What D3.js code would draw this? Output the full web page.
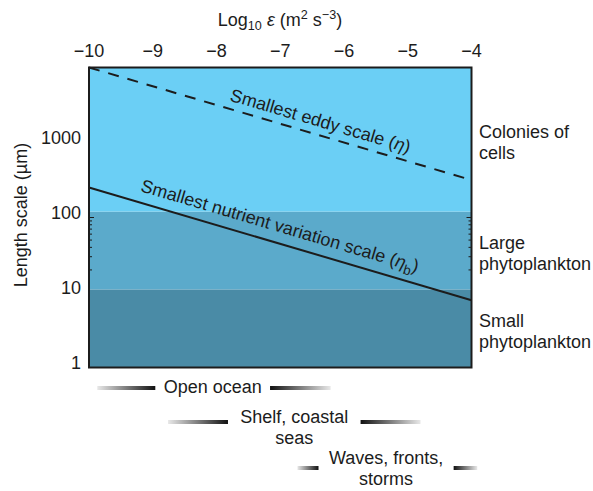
<!DOCTYPE html>
<html>
<head>
<meta charset="utf-8">
<script src="https://cdn.jsdelivr.net/npm/d3@7"></script>
<style>
  html, body { margin: 0; padding: 0; background: #fff; }
  svg { display: block; font-family: "Liberation Sans", Arial, Helvetica, sans-serif; }
</style>
</head>
<body>
<svg id="chart" width="593" height="491"></svg>
<script>
// ---- data ----
const epsTicks = [-10, -9, -8, -7, -6, -5, -4];
const lengthTicks = [1, 10, 100, 1000];
const minorTicks = [20, 30, 40, 50, 60, 70, 80, 90, 100];
const bandEdges = [1, 11, 120, 10000];           // size classes (µm)
const rightLabels = [["Small", "phytoplankton"], ["Large", "phytoplankton"], ["Colonies of", "cells"]];
const eddyEps = [-10, -4];
const eddyScale = [10000, 316];                   // η (µm)
const batchEps = [-10, -4];
const batchScale = [251, 7.9];                    // η_b (µm)
const regimeNames = [["Open ocean"], ["Shelf, coastal", "seas"], ["Waves, fronts,", "storms"]];
const regimeLeftBar = [[-9.87, -8.96], [-8.76, -7.82], [-6.73, -6.40]];
const regimeRightBar = [[-7.16, -6.21], [-5.74, -4.80], [-4.28, -3.91]];

// ---- layout ----
const svg = d3.select("#chart");
const x = d3.scaleLinear().domain([-10, -4]).range([89, 471.5]);
const y = d3.scaleLog().domain([1, 10000]).range([367.5, 67.5]);
const bandColors = ["#4a8ba6", "#5baacb", "#6bcff5"];
const ink = "#1c1c1c";
const fs = 18;

// gradients
const defs = svg.append("defs");
const gL = defs.append("linearGradient").attr("id", "fadeL");
gL.append("stop").attr("offset", "0%").attr("stop-color", "#e8e8e8");
gL.append("stop").attr("offset", "100%").attr("stop-color", "#111");
const gR = defs.append("linearGradient").attr("id", "fadeR");
gR.append("stop").attr("offset", "0%").attr("stop-color", "#111");
gR.append("stop").attr("offset", "100%").attr("stop-color", "#e8e8e8");

// bands
svg.append("g").selectAll("rect").data(d3.range(bandEdges.length - 1)).join("rect")
  .attr("x", x(-10)).attr("width", x(-4) - x(-10))
  .attr("y", i => y(bandEdges[i + 1]))
  .attr("height", i => y(bandEdges[i]) - y(bandEdges[i + 1]))
  .attr("fill", i => bandColors[i]);

// lines
const line = d3.line().x(d => x(d[0])).y(d => y(d[1]));
const eddyPts = eddyEps.map((e, i) => [e, eddyScale[i]]);
const batchPts = batchEps.map((e, i) => [e, batchScale[i]]);
svg.append("path").attr("d", line(eddyPts)).attr("fill", "none")
  .attr("stroke", ink).attr("stroke-width", 2).attr("stroke-dasharray", "11,9");
svg.append("path").attr("d", line(batchPts)).attr("fill", "none")
  .attr("stroke", ink).attr("stroke-width", 2);

// line labels
function lineLabel(pts, eps, off, build) {
  const x0 = x(pts[0][0]), y0 = y(pts[0][1]), x1 = x(pts[1][0]), y1 = y(pts[1][1]);
  const ang = Math.atan2(y1 - y0, x1 - x0) * 180 / Math.PI;
  const t = (x(eps) - x0) / (x1 - x0);
  const px = x0 + t * (x1 - x0), py = y0 + t * (y1 - y0);
  const txt = svg.append("text")
    .attr("transform", `translate(${px},${py}) rotate(${ang})`)
    .attr("y", off).attr("text-anchor", "middle")
    .attr("font-size", fs).attr("fill", ink);
  build(txt);
}
lineLabel(eddyPts, -6.43, -8, t => {
  t.append("tspan").text("Smallest eddy scale (");
  t.append("tspan").attr("font-style", "italic").text("η");
  t.append("tspan").text(")");
});
lineLabel(batchPts, -7.08, -11, t => {
  t.append("tspan").text("Smallest nutrient variation scale (");
  t.append("tspan").attr("font-style", "italic").text("η");
  t.append("tspan").attr("font-size", fs * 0.75).attr("dy", 5).text("b");
  t.append("tspan").attr("dy", -5).text(")");
});

// minor ticks inside left and right
const tk = svg.append("g").attr("stroke", ink).attr("stroke-width", 1);
minorTicks.forEach(v => {
  const len = v === 100 ? 5 : 3;
  tk.append("line").attr("x1", x(-10)).attr("x2", x(-10) + len).attr("y1", y(v)).attr("y2", y(v));
  tk.append("line").attr("x1", x(-4)).attr("x2", x(-4) - len).attr("y1", y(v)).attr("y2", y(v));
});

// frame
svg.append("rect").attr("x", x(-10)).attr("y", y(10000))
  .attr("width", x(-4) - x(-10)).attr("height", y(1) - y(10000))
  .attr("fill", "none").attr("stroke", ink).attr("stroke-width", 2);

// x tick labels (top)
svg.append("g").selectAll("text").data(epsTicks).join("text")
  .attr("x", d => x(d)).attr("y", 57).attr("text-anchor", "middle")
  .attr("font-size", fs).attr("fill", ink)
  .text(d => d3.format("")(d).replace("-", "\u2212"));

// x title
const xt = svg.append("text").attr("x", 280).attr("y", 26).attr("text-anchor", "middle")
  .attr("font-size", fs).attr("fill", ink);
xt.append("tspan").text("Log");
xt.append("tspan").attr("font-size", fs * 0.7).attr("dy", 4).text("10");
xt.append("tspan").attr("dy", -4).attr("font-style", "italic").text(" ε");
xt.append("tspan").text(" (m");
xt.append("tspan").attr("font-size", fs * 0.7).attr("dy", -7).text("2");
xt.append("tspan").attr("dy", 7).text(" s");
xt.append("tspan").attr("font-size", fs * 0.7).attr("dy", -7).text("\u22123");
xt.append("tspan").attr("dy", 7).text(")");

// y tick labels
svg.append("g").selectAll("text").data(lengthTicks).join("text")
  .attr("x", 81).attr("y", d => y(d) + 1.5).attr("text-anchor", "end")
  .attr("font-size", fs).attr("fill", ink).text(d => d);

// y title
svg.append("text").attr("transform", "translate(27,215) rotate(-90)")
  .attr("text-anchor", "middle").attr("font-size", fs).attr("fill", ink)
  .text("Length scale (µm)");

// right labels
rightLabels.forEach((lines, i) => {
  const mid = (y(bandEdges[i]) + y(bandEdges[i + 1])) / 2;
  const t = svg.append("text").attr("x", 479).attr("font-size", fs).attr("fill", ink);
  lines.forEach((s, j) => t.append("tspan").attr("x", 479).attr("y", mid - 1.5 + j * 21).text(s));
});

// regimes
const rowBarY = [388, 422, 468];
const rowTextY = [393, 422.5, 463.5];
regimeNames.forEach((lines, i) => {
  const lb = regimeLeftBar[i], rb = regimeRightBar[i];
  svg.append("rect").attr("x", x(lb[0])).attr("width", x(lb[1]) - x(lb[0]))
    .attr("y", rowBarY[i] - 2).attr("height", 4).attr("fill", "url(#fadeL)");
  svg.append("rect").attr("x", x(rb[0])).attr("width", x(rb[1]) - x(rb[0]))
    .attr("y", rowBarY[i] - 2).attr("height", 4).attr("fill", "url(#fadeR)");
  const cx = (x(lb[1]) + x(rb[0])) / 2;
  const t = svg.append("text").attr("text-anchor", "middle").attr("font-size", fs).attr("fill", ink);
  lines.forEach((s, j) => t.append("tspan").attr("x", cx).attr("y", rowTextY[i] + j * 21.5).text(s));
});
</script>
</body>
</html>
